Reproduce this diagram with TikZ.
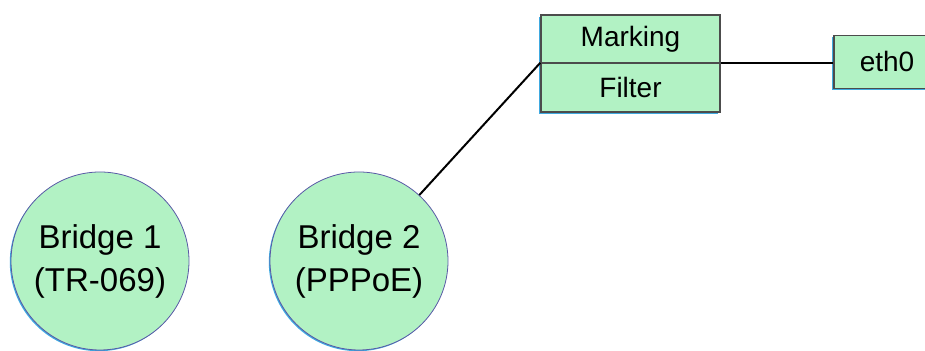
\documentclass[tikz,border=0pt]{standalone}
\usepackage{fontspec}
\setmainfont{Liberation Sans}
\usetikzlibrary{shadows}
\definecolor{nodegreen}{HTML}{B2F2C4}
\definecolor{edgeblue}{HTML}{3FA9E0}
\tikzset{
  bridge/.style={circle,draw=gray!70!blue,fill=nodegreen,minimum size=89pt,inner sep=0pt,
    align=center,font=\fontsize{16.5}{21.5}\selectfont,
    general shadow={fill=edgeblue,shadow xshift=-0.6pt,shadow yshift=-0.6pt}},
  part/.style={rectangle,draw=black!70,line width=0.7pt,fill=nodegreen,minimum width=89.5pt,
    minimum height=24pt,inner sep=0pt,font=\fontsize{14}{16}\selectfont},
  boxshadow/.style={general shadow={fill=edgeblue,shadow xshift=-1pt,shadow yshift=-1pt}},
}
\begin{document}
\begin{tikzpicture}[x=0.5pt,y=0.5pt]
\useasboundingbox (0,0) rectangle (925,351);
\node[bridge] (bridge1) at (100,90) {Bridge 1\\(TR-069)};
\node[bridge] (bridge2) at (359,90) {Bridge 2\\(PPPoE)};
\node[part,boxshadow,minimum height=48.5pt] (unit) at (630.5,287.5) {};
\node[part] (marking) at (630.5,312) {Marking};
\node[part] (filter) at (630.5,263.5) {Filter};
\node[part,boxshadow,minimum width=53pt,minimum height=26.5pt] (eth0) at (887,289) {eth0};
\draw[line width=1pt] (bridge2) -- (filter.north west);
\draw[line width=1pt] (filter.north east) -- (filter.north east -| eth0.west);
\end{tikzpicture}
\end{document}
